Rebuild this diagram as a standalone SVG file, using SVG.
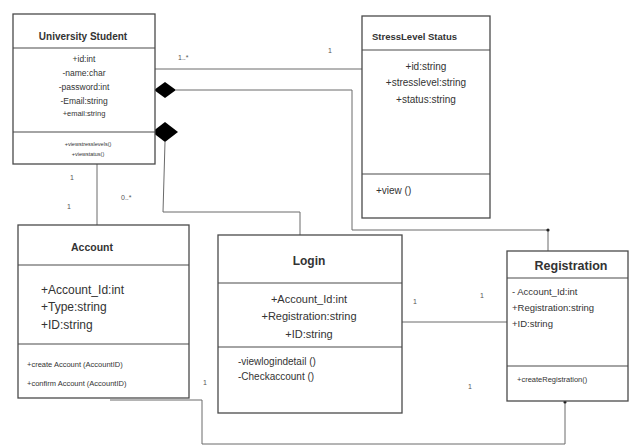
<svg xmlns="http://www.w3.org/2000/svg" width="629" height="446" viewBox="0 0 629 446">
<style>
.box{fill:#fff;stroke:#4a4a4a;stroke-width:1.3}
.div{stroke:#4a4a4a;stroke-width:1.2}
.ln{fill:none;stroke:#6a6a6a;stroke-width:1}
.t{font-family:"Liberation Sans",Arial,sans-serif;fill:#333}
.b{font-weight:bold}
.m{text-anchor:middle}
.lbl{font-family:"Liberation Sans",Arial,sans-serif;fill:#555;font-size:7px}
</style>
<rect width="629" height="446" fill="#fff"/>
<g id="connectors">
<polyline class="ln" points="155,69 362,69"/>
<polyline class="ln" points="176,90 352,90 352,230 548,230 548,251"/>
<polyline class="ln" points="165,142 163,212 300,212 300,235"/>
<polyline class="ln" points="97,164 97,225"/>
<polyline class="ln" points="402,322 507,322"/>
<polyline class="ln" points="110,400 202,400 202,444 565,444 565,401"/>
<path d="M154,90 L165,82 L176,90 L165,98 Z" fill="#000"/>
<path d="M152,132 L165,122 L178,132 L165,142 Z" fill="#000"/>
<circle cx="548" cy="230" r="1.6" fill="#222"/>
<circle cx="565" cy="402" r="1.6" fill="#222"/>
<text class="lbl" x="178" y="60">1..*</text>
<text class="lbl" x="328" y="53">1</text>
<text class="lbl" x="70" y="180">1</text>
<text class="lbl" x="67" y="209">1</text>
<text class="lbl" x="121" y="200">0..*</text>
<text class="lbl" x="413" y="304">1</text>
<text class="lbl" x="480" y="298">1</text>
<text class="lbl" x="203" y="385">1</text>
<text class="lbl" x="468" y="389">1</text>
</g>
<g id="university-student">
<rect class="box" x="13" y="14" width="142" height="150"/>
<line class="div" x1="13" y1="48" x2="155" y2="48"/>
<line class="div" x1="13" y1="132" x2="155" y2="132"/>
<text class="t b m" x="83" y="40" font-size="10">University Student</text>
<text class="t m" x="84" y="62" font-size="8.5">+id:int</text>
<text class="t m" x="84" y="76" font-size="8.5">-name:char</text>
<text class="t m" x="84" y="90" font-size="8.5">-password:int</text>
<text class="t m" x="84" y="104" font-size="8.5">-Email:string</text>
<text class="t m" x="84" y="116" font-size="7.5">+email:string</text>
<text class="t m" x="88" y="146" font-size="5.5">+viewstresslevels()</text>
<text class="t m" x="88" y="156" font-size="5.5">+viewstatus()</text>
</g>
<g id="stresslevel-status">
<rect class="box" x="362" y="16" width="128" height="202"/>
<line class="div" x1="362" y1="50" x2="490" y2="50"/>
<line class="div" x1="362" y1="174" x2="490" y2="174"/>
<text class="t b" x="372" y="40" font-size="9.5">StressLevel Status</text>
<text class="t m" x="426" y="70" font-size="10">+id:string</text>
<text class="t m" x="426" y="86" font-size="10">+stresslevel:string</text>
<text class="t m" x="426" y="103" font-size="10">+status:string</text>
<text class="t" x="376" y="194" font-size="10">+view ()</text>
</g>
<g id="account">
<rect class="box" x="18" y="225" width="171" height="173"/>
<line class="div" x1="18" y1="265" x2="189" y2="265"/>
<line class="div" x1="18" y1="344" x2="189" y2="344"/>
<text class="t b m" x="92" y="251" font-size="10.5">Account</text>
<text class="t" x="41" y="294" font-size="12">+Account_Id:int</text>
<text class="t" x="41" y="311" font-size="12">+Type:string</text>
<text class="t" x="41" y="329" font-size="12">+ID:string</text>
<text class="t" x="27" y="367" font-size="7.5">+create Account (AccountID)</text>
<text class="t" x="27" y="386" font-size="7.5">+confirm Account (AccountID)</text>
</g>
<g id="login">
<rect class="box" x="218" y="235" width="184" height="178"/>
<line class="div" x1="218" y1="283" x2="402" y2="283"/>
<line class="div" x1="218" y1="347" x2="402" y2="347"/>
<text class="t b m" x="309" y="265" font-size="12">Login</text>
<text class="t m" x="309" y="303" font-size="11">+Account_Id:int</text>
<text class="t m" x="309" y="320" font-size="11">+Registration:string</text>
<text class="t m" x="309" y="338" font-size="11">+ID:string</text>
<text class="t" x="238" y="365" font-size="10">-viewlogindetail ()</text>
<text class="t" x="238" y="380" font-size="10">-Checkaccount ()</text>
</g>
<g id="registration">
<rect class="box" x="507" y="251" width="121" height="150"/>
<line class="div" x1="507" y1="278" x2="628" y2="278"/>
<line class="div" x1="507" y1="366" x2="628" y2="366"/>
<text class="t b m" x="571" y="270" font-size="12.5">Registration</text>
<text class="t" x="512" y="295" font-size="9.5">- Account_Id:int</text>
<text class="t" x="512" y="311" font-size="9.5">+Registration:string</text>
<text class="t" x="512" y="327" font-size="9.5">+ID:string</text>
<text class="t" x="517" y="382" font-size="7.5">+createRegistration()</text>
</g>
</svg>
